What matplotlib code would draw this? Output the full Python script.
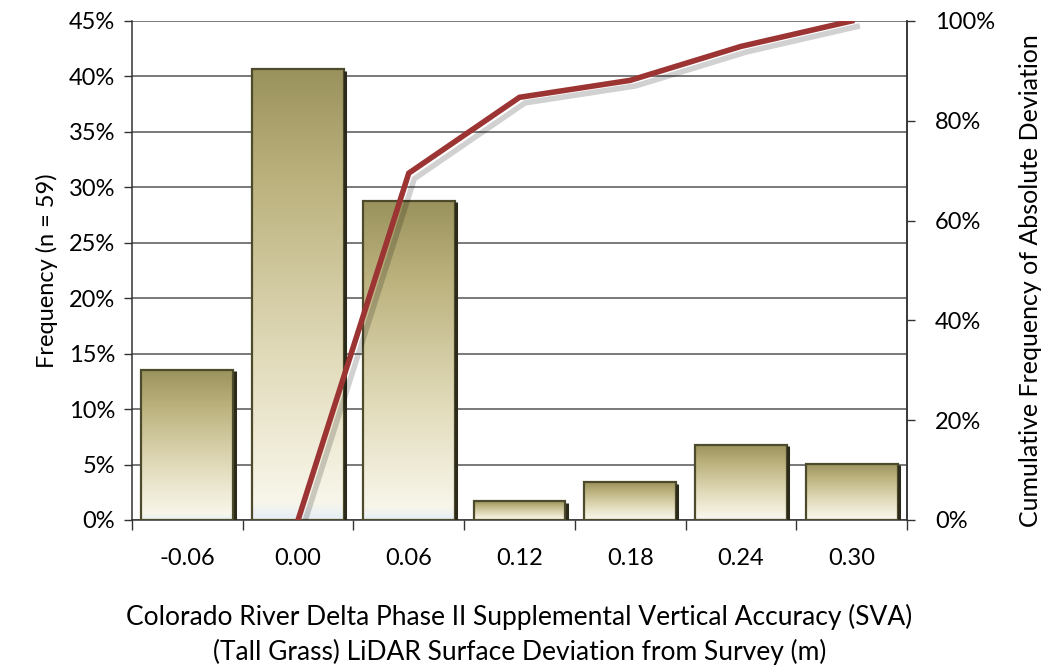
import numpy as np
import matplotlib
matplotlib.use("Agg")
from matplotlib import pyplot as plt
from matplotlib import patheffects as pe
from matplotlib.colors import LinearSegmentedColormap
from matplotlib.ticker import FuncFormatter, MultipleLocator

plt.rcParams['font.family'] = ['Lato', 'DejaVu Sans']

categories = ["-0.06", "0.00", "0.06", "0.12", "0.18", "0.24", "0.30"]
freq = [13.56, 40.68, 28.81, 1.69, 3.39, 6.78, 5.08]          # % of 59
cum_cats = ["0.00", "0.06", "0.12", "0.18", "0.24", "0.30"]
cum_freq = [0.0, 69.5, 84.7, 88.1, 94.9, 100.0]                 # %

fig = plt.figure(figsize=(10.5, 6.7), dpi=100)
ax = fig.add_axes([0.1257, 0.2239, 0.7381, 0.7448])

x = np.arange(len(categories))
w = 0.83
cmap = LinearSegmentedColormap.from_list(
    "olive", [(0.0, "#e6eef6"), (0.04, "#f8f6ea"), (0.35, "#e2dcbc"),
              (0.75, "#bcb27e"), (1.0, "#9a925c")])
grad = np.linspace(0, 1, 256).reshape(-1, 1)

bars = ax.bar(x, freq, width=w, color="none", edgecolor="#4e4a2c",
              linewidth=1.6, zorder=3)
for b in bars:
    bx, bw, bh = b.get_x(), b.get_width(), b.get_height()
    im = ax.imshow(grad, cmap=cmap, aspect="auto", origin="lower",
                   extent=[bx, bx + bw, 0, bh], zorder=2.5)
    im.set_clip_path(b)
    # darker shadow on the right side
    ax.plot([bx + bw + 0.012, bx + bw + 0.012], [0, bh - 0.15],
            color="#2c2a1a", lw=2.2, zorder=3.1, solid_capstyle="butt")

ax.set_xlim(-0.5, len(categories) - 0.5)
ax.set_ylim(0, 45)
ax.yaxis.set_major_locator(MultipleLocator(5))
ax.yaxis.set_major_formatter(FuncFormatter(lambda v, p: f"{v:.0f}%"))
ax.set_xticks(x)
ax.set_xticklabels(categories)
ax.set_xticks(np.arange(-0.5, len(categories)), minor=True)
ax.tick_params(axis="x", which="major", length=0, labelsize=17, pad=20)
ax.tick_params(axis="x", which="minor", length=7, width=1, color="#333333")
ax.tick_params(axis="y", length=6, width=1, labelsize=17, pad=6,
               color="#333333")
ax.grid(axis="y", color="#555555", lw=1.1, zorder=1)
ax.set_axisbelow(True)
ax.spines["top"].set_visible(False)
for s in ["left", "right", "bottom"]:
    ax.spines[s].set_color("#333333")
    ax.spines[s].set_linewidth(1.1)

ax.set_ylabel("Frequency (n = 59)", fontsize=17, labelpad=8)
ax.set_xlabel("Colorado River Delta Phase II Supplemental Vertical Accuracy (SVA)\n"
              "(Tall Grass) LiDAR Surface Deviation from Survey (m)",
              fontsize=19, labelpad=25, linespacing=1.45)

ax2 = ax.twinx()
cx = [categories.index(c) for c in cum_cats]
ax2.plot(cx, cum_freq, color="#9c3433", lw=4, zorder=5,
         solid_joinstyle="miter",
         path_effects=[pe.SimpleLineShadow(offset=(4, -4), alpha=0.18),
                       pe.Normal()])
ax2.set_ylim(0, 100)
ax2.yaxis.set_major_locator(MultipleLocator(20))
ax2.yaxis.set_major_formatter(FuncFormatter(lambda v, p: f"{v:.0f}%"))
ax2.tick_params(axis="y", length=6, width=1, labelsize=17, pad=14,
                color="#333333")
ax2.set_ylabel("Cumulative Frequency of Absolute Deviation", fontsize=18,
               labelpad=20)
ax2.yaxis.set_label_coords(1.145, 0.48)
for s in ["top", "left", "bottom"]:
    ax2.spines[s].set_visible(False)
ax2.spines["right"].set_color("#333333")
ax2.spines["right"].set_linewidth(1.1)

fig.savefig("out.png", dpi=100, facecolor="white")
